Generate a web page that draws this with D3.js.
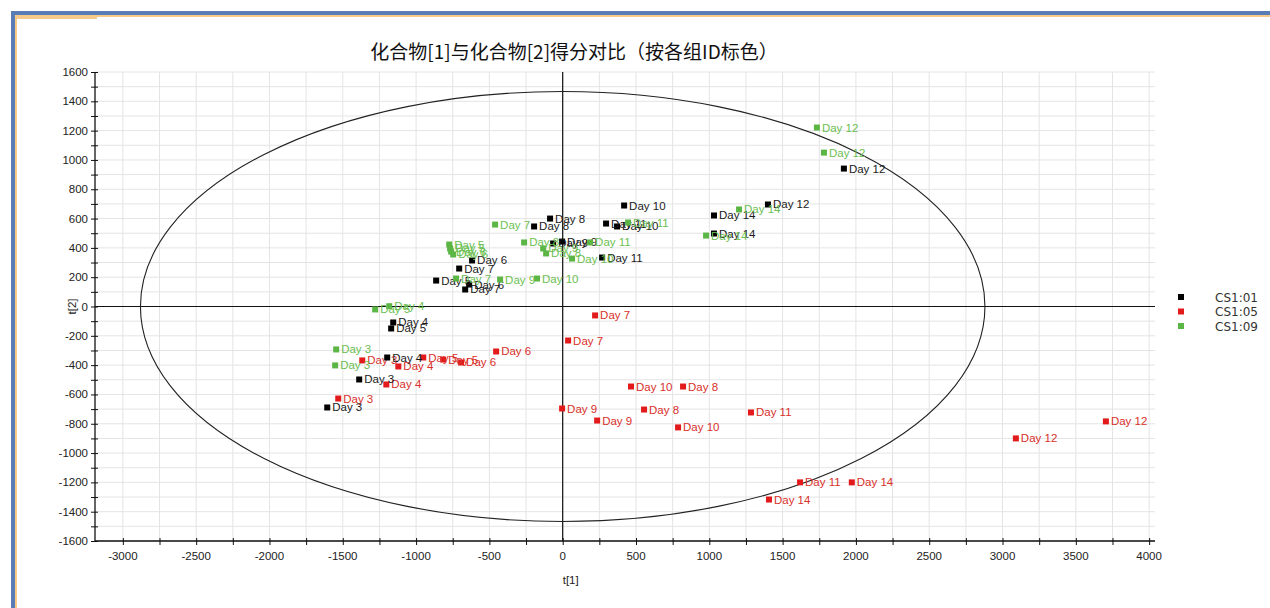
<!DOCTYPE html>
<html>
<head>
<meta charset="utf-8">
<script src="https://cdn.jsdelivr.net/npm/d3@7/dist/d3.min.js"></script>
<style>
  html, body { margin: 0; padding: 0; background: #fff; }
  svg { display: block; }
</style>
</head>
<body>
<svg id="chart" width="1270" height="608"></svg>
<script>
// Score plot: t[1] vs t[2], coloured by group ID
const groups = ["CS1:01", "CS1:05", "CS1:09"];
const groupColors = ["#000000", "#e31a1c", "#5cb646"];
const labelColors = ["#1a1a1a", "#d9302a", "#6cbf52"];

// CS1:01
const t1_cs01 = [1918, 1400, 1032, 1032, 419, 296, 371, -86, -195, -4, -65, 269, -618, -706, -863, -638, -665, -1156, -1170, -1197, -1388, -1606];
const t2_cs01 = [941, 696, 621, 498, 689, 566, 546, 600, 546, 443, 430, 334, 314, 259, 177, 150, 116, -109, -150, -348, -498, -689];
const day_cs01 = ["Day 12", "Day 12", "Day 14", "Day 14", "Day 10", "Day 11", "Day 10", "Day 8", "Day 8", "Day 9", "Day 9", "Day 11", "Day 6", "Day 7", "Day 5", "Day 6", "Day 7", "Day 4", "Day 5", "Day 4", "Day 3", "Day 3"];

// CS1:05
const t1_cs05 = [3705, 3091, 1619, 1972, 1407, 1284, 221, 37, 466, 821, -4, 235, 555, 787, -454, -693, -815, -951, -1121, -1203, -1367, -1531];
const t2_cs05 = [-784, -900, -1200, -1200, -1317, -723, -61, -232, -546, -546, -696, -778, -703, -825, -307, -382, -362, -348, -409, -532, -368, -628];
const day_cs05 = ["Day 12", "Day 12", "Day 11", "Day 14", "Day 14", "Day 11", "Day 7", "Day 7", "Day 10", "Day 8", "Day 9", "Day 9", "Day 8", "Day 10", "Day 6", "Day 6", "Day 5", "Day 5", "Day 4", "Day 4", "Day 3", "Day 3"];

// CS1:09
const t1_cs09 = [1734, 1782, 1203, 978, 446, 187, 64, -175, -461, -727, -263, -113, -133, -427, -774, -768, -761, -747, -1183, -1279, -1545, -1552];
const t2_cs09 = [1221, 1050, 662, 484, 573, 437, 327, 191, 559, 191, 437, 362, 396, 184, 423, 396, 375, 355, 2, -20, -293, -402];
const day_cs09 = ["Day 12", "Day 12", "Day 14", "Day 14", "Day 11", "Day 11", "Day 10", "Day 10", "Day 7", "Day 7", "Day 8", "Day 8", "Day 9", "Day 9", "Day 5", "Day 5", "Day 6", "Day 6", "Day 4", "Day 5", "Day 3", "Day 3"];

// Hotelling T2 (95%) ellipse semi-axes
const ellipseT1 = 2880;
const ellipseT2 = 1467;

const xTickLabels = [-3000, -2500, -2000, -1500, -1000, -500, 0, 500, 1000, 1500, 2000, 2500, 3000, 3500, 4000];
const yTickLabels = [-1600, -1400, -1200, -1000, -800, -600, -400, -200, 0, 200, 400, 600, 800, 1000, 1200, 1400, 1600];

const titleText = "化合物[1]与化合物[2]得分对比（按各组ID标色）";

const svg = d3.select("#chart");

// window frame
svg.append("rect").attr("x", 0).attr("y", 0).attr("width", 1270).attr("height", 608).attr("fill", "#ffffff");
svg.append("rect").attr("x", 12).attr("y", 11).attr("width", 1258).attr("height", 4).attr("fill", "#5b7db5");
svg.append("rect").attr("x", 11).attr("y", 11).attr("width", 4).attr("height", 597).attr("fill", "#5b7db5");
svg.append("rect").attr("x", 15).attr("y", 15).attr("width", 1255).attr("height", 2).attr("fill", "#f7c98a");
svg.append("rect").attr("x", 15).attr("y", 15).attr("width", 2).attr("height", 593).attr("fill", "#f7c98a");
svg.append("rect").attr("x", 15).attr("y", 15).attr("width", 82).attr("height", 4).attr("fill", "#f7c98a");

const x = d3.scaleLinear().domain([-3190, 4040]).range([95, 1155]);
const y = d3.scaleLinear().domain([-1600, 1600]).range([541, 72]);

const plot = svg.append("g");

// grid
plot.append("g").selectAll("line")
  .data(d3.range(-3000, 4001, 250))
  .join("line")
  .attr("x1", d => x(d)).attr("x2", d => x(d))
  .attr("y1", y(1600)).attr("y2", y(-1600))
  .attr("stroke", "#e4e4e4").attr("stroke-width", 1);
plot.append("g").selectAll("line")
  .data(d3.range(-1600, 1601, 100))
  .join("line")
  .attr("x1", x.range()[0]).attr("x2", x.range()[1])
  .attr("y1", d => y(d)).attr("y2", d => y(d))
  .attr("stroke", "#e4e4e4").attr("stroke-width", 1);

// zero lines
plot.append("line")
  .attr("x1", x(0)).attr("x2", x(0)).attr("y1", y(1600)).attr("y2", y(-1600))
  .attr("stroke", "#111").attr("stroke-width", 1.2);
plot.append("line")
  .attr("x1", x.range()[0]).attr("x2", x.range()[1]).attr("y1", y(0)).attr("y2", y(0))
  .attr("stroke", "#111").attr("stroke-width", 1.2);

// ellipse
plot.append("ellipse")
  .attr("cx", x(0)).attr("cy", y(0))
  .attr("rx", x(ellipseT1) - x(0)).attr("ry", y(0) - y(ellipseT2))
  .attr("fill", "none").attr("stroke", "#222").attr("stroke-width", 1.1);

// axes
const xAxis = d3.axisBottom(x)
  .tickValues(d3.range(-3000, 4001, 250))
  .tickSize(0)
  .tickFormat(() => "");
const gx = svg.append("g").attr("transform", `translate(0,${y(-1600)})`).call(xAxis);
gx.select(".domain").attr("stroke", "#111").attr("stroke-width", 1.3).attr("d", `M${x.range()[0]},0H${x.range()[1]}`);
gx.selectAll(".tick line").attr("y1", -3).attr("y2", 4).attr("stroke", "#111");
gx.append("g").selectAll("text")
  .data(xTickLabels)
  .join("text")
  .attr("x", d => x(d)).attr("y", 19)
  .attr("text-anchor", "middle")
  .attr("font-family", "Liberation Sans, Arial, sans-serif")
  .attr("font-size", 11.5).attr("fill", "#222")
  .text(d => d);

const yAxis = d3.axisLeft(y)
  .tickValues(d3.range(-1600, 1601, 100))
  .tickSize(0)
  .tickFormat(() => "");
const gy = svg.append("g").attr("transform", `translate(${x.range()[0]},0)`).call(yAxis);
gy.select(".domain").attr("stroke", "#111").attr("stroke-width", 1.3).attr("d", `M0,${y.range()[1]}V${y.range()[0]}`);
gy.selectAll(".tick line").attr("x1", -4).attr("x2", 3).attr("stroke", "#111");
gy.append("g").selectAll("text")
  .data(yTickLabels)
  .join("text")
  .attr("x", -7).attr("y", d => y(d)).attr("dy", "0.35em")
  .attr("text-anchor", "end")
  .attr("font-family", "Liberation Sans, Arial, sans-serif")
  .attr("font-size", 11.5).attr("fill", "#222")
  .text(d => d);

// axis titles
svg.append("text")
  .attr("x", x(0) + 8).attr("y", 584)
  .attr("text-anchor", "middle")
  .attr("font-family", "Liberation Sans, Arial, sans-serif")
  .attr("font-size", 11.5).attr("fill", "#222")
  .text("t[1]");
svg.append("text")
  .attr("transform", `translate(76,${y(0)}) rotate(-90)`)
  .attr("text-anchor", "middle")
  .attr("font-family", "Liberation Sans, Arial, sans-serif")
  .attr("font-size", 11.5).attr("fill", "#222")
  .text("t[2]");

// title
svg.append("text")
  .attr("x", 574).attr("y", 59)
  .attr("text-anchor", "middle")
  .attr("font-family", "Noto Sans CJK SC, sans-serif")
  .attr("font-size", 19).attr("fill", "#111")
  .text(titleText);

// points + day labels
const series = [
  { t1: t1_cs01, t2: t2_cs01, day: day_cs01 },
  { t1: t1_cs05, t2: t2_cs05, day: day_cs05 },
  { t1: t1_cs09, t2: t2_cs09, day: day_cs09 }
];
const drawOrder = [1, 0, 2];
drawOrder.forEach(gi => {
  const s = series[gi];
  const pts = s.t1.map((v, i) => ({ t1: v, t2: s.t2[i], day: s.day[i] }));
  const g = svg.append("g");
  g.selectAll("rect")
    .data(pts)
    .join("rect")
    .attr("x", d => x(d.t1) - 3).attr("y", d => y(d.t2) - 3)
    .attr("width", 6).attr("height", 6)
    .attr("fill", groupColors[gi]);
  g.selectAll("text")
    .data(pts)
    .join("text")
    .attr("x", d => x(d.t1) + 5).attr("y", d => y(d.t2) + 4)
    .attr("font-family", "Liberation Sans, Arial, sans-serif")
    .attr("font-size", 11.5).attr("fill", labelColors[gi])
    .text(d => d.day);
});

// legend
const legend = svg.append("g");
groups.forEach((name, i) => {
  legend.append("rect")
    .attr("x", 1178).attr("y", 294 + i * 14.5)
    .attr("width", 6).attr("height", 6)
    .attr("fill", groupColors[i]);
  legend.append("text")
    .attr("x", 1215).attr("y", 301.5 + i * 14.5)
    .attr("font-family", "DejaVu Sans, Verdana, sans-serif")
    .attr("font-size", 12).attr("fill", "#333")
    .text(name);
});
</script>
</body>
</html>
